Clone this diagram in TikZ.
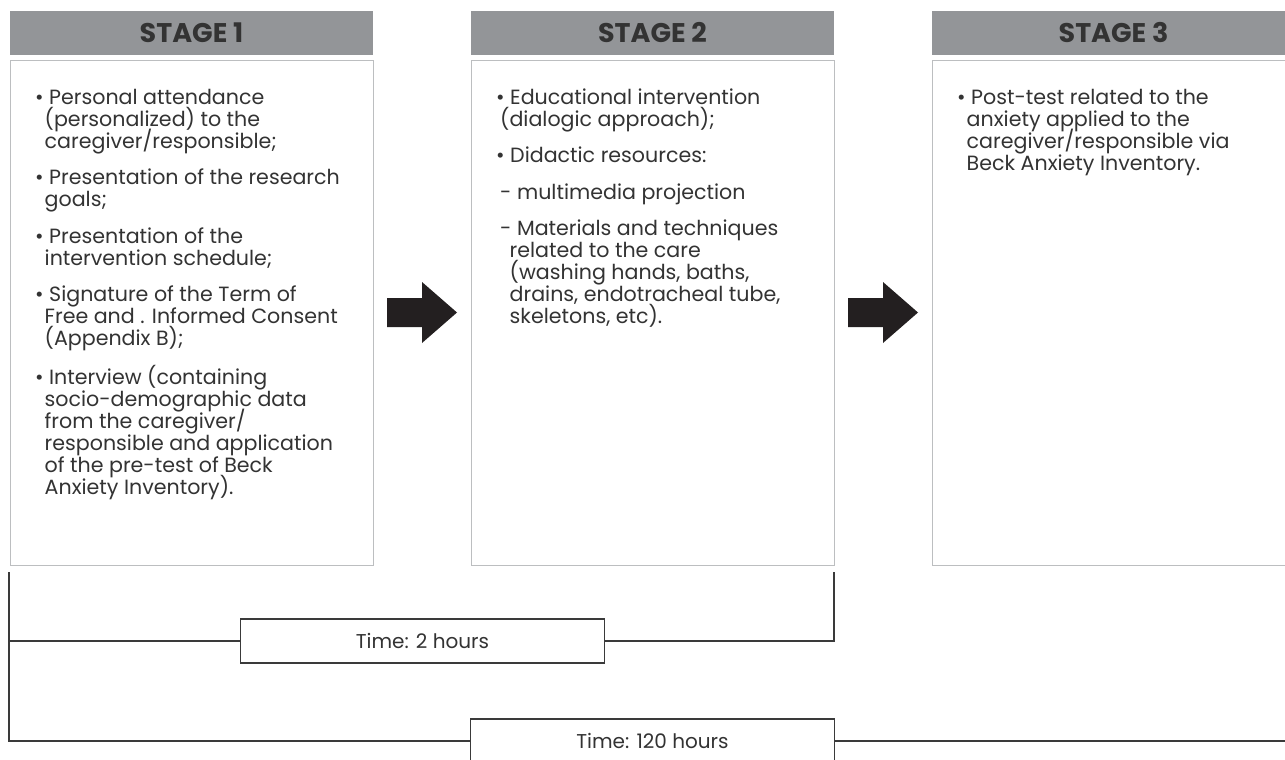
\documentclass[tikz,border=0pt]{standalone}
\usepackage{fontspec}
\setmainfont{Poppins}
\definecolor{hdrgray}{HTML}{939598}
\definecolor{txt}{HTML}{333333}
\definecolor{boxline}{HTML}{BCBEC0}
\definecolor{tline}{HTML}{3A3A3A}
\definecolor{arr}{HTML}{231F20}
\newcommand{\tightlines}{\lineskiplimit=-30pt\lineskip=0pt\relax}
\newcommand{\fst}{\rule{0pt}{17pt}}
\tikzset{
  hdr/.style={fill=hdrgray, minimum width=363pt, minimum height=44pt, inner sep=0pt,
    text=txt, font=\bfseries\fontsize{27}{30}\selectfont},
  stagebox/.style={draw=boxline, line width=1pt, fill=white, minimum width=363pt, minimum height=504pt, inner sep=0pt},
  body/.style={anchor=north west, align=left, inner sep=0pt, text=txt,
    font=\fontsize{20.6}{22}\selectfont\tightlines},
  timebox/.style={draw=tline, line width=1.1pt, fill=white, minimum width=364pt, minimum height=44pt,
    inner sep=0pt, text=txt, font=\fontsize{20}{22}\selectfont},
  tl/.style={draw=tline, line width=1.1pt},
  bigarrow/.style={fill=arr}
}
\newcommand{\ind}{\hspace*{9.5pt}}
\begin{document}
\begin{tikzpicture}[x=1pt,y=-1pt]
\useasboundingbox (0,0) rectangle (1285,760);
% headers
\node[hdr] (h1) at (191.5,33) {STAGE 1};
\node[hdr] (h2) at (652.5,33) {STAGE 2};
\node[hdr] (h3) at (1113.5,33) {STAGE 3};
% boxes
\node[stagebox] (b1) at (191.5,313) {};
\node[stagebox] (b2) at (652.5,313) {};
\node[stagebox] (b3) at (1113.5,313) {};
% texts stage 1 (top = first baseline - 17)
\node[body] (s1a) at (35,87) {\fst• Personal attendance\\\ind(personalized) to the\\\ind caregiver/responsible;};
\node[body] (s1b) at (35,167.5) {\fst• Presentation of the research\\\ind goals;};
\node[body] (s1c) at (35,226) {\fst• Presentation of the\\\ind intervention schedule;};
\node[body] (s1d) at (35,284.5) {\fst• Signature of the Term of\\\ind Free and . Informed Consent\\\ind(Appendix B);};
\node[body] (s1e) at (35,365) {\fst• Interview (containing\\\ind socio-demographic data\\\ind from the caregiver/\\\ind responsible and application\\\ind of the pre-test of Beck\\\ind Anxiety Inventory).};
% texts stage 2
\node[body] (s2a) at (496,87) {\fst• Educational intervention\\\hspace*{4pt}(dialogic approach);};
\node[body] (s2b) at (496,145.5) {\fst• Didactic resources:};
\node[body] (s2c) at (500,182) {\fst- multimedia projection};
\node[body] (s2d) at (500,218.5) {\fst- Materials and techniques\\\ind related to the care\\\ind(washing hands, baths,\\\ind drains, endotracheal tube,\\\ind skeletons, etc).};
% texts stage 3
\node[body] (s3a) at (957,87) {\fst• Post-test related to the\\\ind anxiety applied to the\\\ind caregiver/responsible via\\\ind Beck Anxiety Inventory.};
% arrows
\fill[bigarrow] (387,298) -- (422,298) -- (422,282) -- (457,312.5) -- (422,343) -- (422,327) -- (387,327) -- cycle;
\begin{scope}[xshift=461pt]
\fill[bigarrow] (387,298) -- (422,298) -- (422,282) -- (457,312.5) -- (422,343) -- (422,327) -- (387,327) -- cycle;
\end{scope}
% time boxes
\node[timebox] (t2) at (422.5,641) {Time: 2 hours};
\node[timebox] (t120) at (652.5,741) {Time: 120 hours};
\coordinate (l0) at (9,572);
\coordinate (r0) at (834,572);
\coordinate (rend) at (1290,741);
\draw[tl] (l0) |- (t2.west);
\draw[tl] (t2.east) -| (r0);
\draw[tl] (l0) |- (t120.west);
\draw[tl] (t120.east) -- (rend);
\end{tikzpicture}
\end{document}
